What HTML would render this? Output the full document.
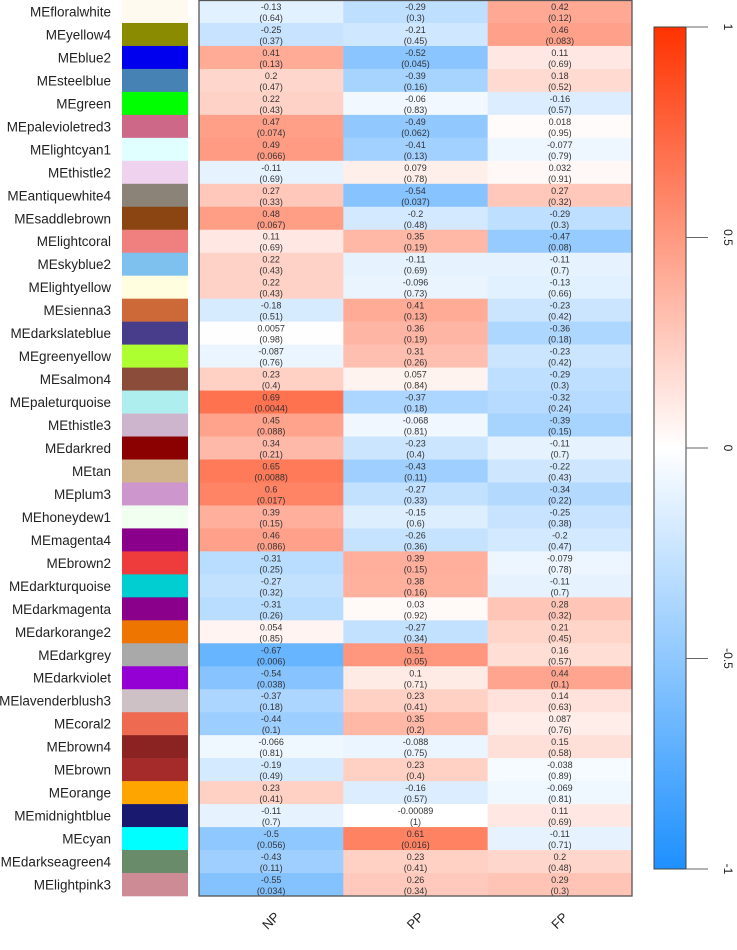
<!DOCTYPE html>
<html><head><meta charset="utf-8"><style>
body{margin:0;background:#fff;width:737px;height:945px;overflow:hidden;font-family:"Liberation Sans",sans-serif}
</style></head><body>
<svg id="chart" width="737" height="945" xmlns="http://www.w3.org/2000/svg"></svg>
<script>
const modules=["floralwhite","yellow4","blue2","steelblue","green","palevioletred3","lightcyan1","thistle2","antiquewhite4","saddlebrown","lightcoral","skyblue2","lightyellow","sienna3","darkslateblue","greenyellow","salmon4","paleturquoise","thistle3","darkred","tan","plum3","honeydew1","magenta4","brown2","darkturquoise","darkmagenta","darkorange2","darkgrey","darkviolet","lavenderblush3","coral2","brown4","brown","orange","midnightblue","cyan","darkseagreen4","lightpink3"];
const traits=["NP","PP","FP"];
const corNP=["-0.13","-0.25","0.41","0.2","0.22","0.47","0.49","-0.11","0.27","0.48","0.11","0.22","0.22","-0.18","0.0057","-0.087","0.23","0.69","0.45","0.34","0.65","0.6","0.39","0.46","-0.31","-0.27","-0.31","0.054","-0.67","-0.54","-0.37","-0.44","-0.066","-0.19","0.23","-0.11","-0.5","-0.43","-0.55"];
const pNP=["0.64","0.37","0.13","0.47","0.43","0.074","0.066","0.69","0.33","0.067","0.69","0.43","0.43","0.51","0.98","0.76","0.4","0.0044","0.088","0.21","0.0088","0.017","0.15","0.086","0.25","0.32","0.26","0.85","0.006","0.038","0.18","0.1","0.81","0.49","0.41","0.7","0.056","0.11","0.034"];
const corPP=["-0.29","-0.21","-0.52","-0.39","-0.06","-0.49","-0.41","0.079","-0.54","-0.2","0.35","-0.11","-0.096","0.41","0.36","0.31","0.057","-0.37","-0.068","-0.23","-0.43","-0.27","-0.15","-0.26","0.39","0.38","0.03","-0.27","0.51","0.1","0.23","0.35","-0.088","0.23","-0.16","-0.00089","0.61","0.23","0.26"];
const pPP=["0.3","0.45","0.045","0.16","0.83","0.062","0.13","0.78","0.037","0.48","0.19","0.69","0.73","0.13","0.19","0.26","0.84","0.18","0.81","0.4","0.11","0.33","0.6","0.36","0.15","0.16","0.92","0.34","0.05","0.71","0.41","0.2","0.75","0.4","0.57","1","0.016","0.41","0.34"];
const corFP=["0.42","0.46","0.11","0.18","-0.16","0.018","-0.077","0.032","0.27","-0.29","-0.47","-0.11","-0.13","-0.23","-0.36","-0.23","-0.29","-0.32","-0.39","-0.11","-0.22","-0.34","-0.25","-0.2","-0.079","-0.11","0.28","0.21","0.16","0.44","0.14","0.087","0.15","-0.038","-0.069","0.11","-0.11","0.2","0.29"];
const pFP=["0.12","0.083","0.69","0.52","0.57","0.95","0.79","0.91","0.32","0.3","0.08","0.7","0.66","0.42","0.18","0.42","0.3","0.24","0.15","0.7","0.43","0.22","0.38","0.47","0.78","0.7","0.32","0.45","0.57","0.1","0.63","0.76","0.58","0.89","0.81","0.69","0.71","0.48","0.3"];
const legendTicks=[1,0.5,0,-0.5,-1];
const swatch={floralwhite:"#FFFAF0",yellow4:"#8B8B00",blue2:"#0000EE",steelblue:"#4682B4",green:"#00FF00",palevioletred3:"#CD6889",lightcyan1:"#E0FFFF",thistle2:"#EED2EE",antiquewhite4:"#8B8378",saddlebrown:"#8B4513",lightcoral:"#F08080",skyblue2:"#7EC0EE",lightyellow:"#FFFFE0",sienna3:"#CD6839",darkslateblue:"#483D8B",greenyellow:"#ADFF2F",salmon4:"#8B4C39",paleturquoise:"#AFEEEE",thistle3:"#CDB5CD",darkred:"#8B0000",tan:"#D2B48C",plum3:"#CD96CD",honeydew1:"#F0FFF0",magenta4:"#8B008B",brown2:"#EE3B3B",darkturquoise:"#00CED1",darkmagenta:"#8B008B",darkorange2:"#EE7600",darkgrey:"#A9A9A9",darkviolet:"#9400D3",lavenderblush3:"#CDC1C5",coral2:"#EE6A50",brown4:"#8B2323",brown:"#A52A2A",orange:"#FFA500",midnightblue:"#191970",cyan:"#00FFFF",darkseagreen4:"#698B69",lightpink3:"#CD8C95"};
</script>
<script>
const svg=document.getElementById('chart');
const NS="http://www.w3.org/2000/svg";
function mk(t,a){const e=document.createElementNS(NS,t);for(const k in a)e.setAttribute(k,a[k]);svg.appendChild(e);return e;}
const X0=199,X1=632,Y0=0,Y1=896;
const nR=modules.length, rh=(Y1-Y0)/nR, cw=(X1-X0)/traits.length;
const yRow=i=>Y0+i*rh;
const xCol=j=>X0+j*cw;
function col(v){
  if(v>=0){const r=255,g=Math.round(255-v*205),b=Math.round(255-v*255);return `rgb(${r},${g},${b})`;}
  const a=-v;return `rgb(${Math.round(255-a*225)},${Math.round(255-a*111)},255)`;
}
const cors=[corNP,corPP,corFP], ps=[pNP,pPP,pFP];
for(let i=0;i<nR;i++){
  const t=mk('text',{x:111,y:yRow(i)+rh/2+5,'text-anchor':'end','font-size':'13.5',fill:'#222'});
  t.textContent='ME'+modules[i];
  
  
  const s=mk('rect',{x:122,y:yRow(i),width:66,height:rh+0.3,fill:swatch[modules[i]]});
  
  
  for(let j=0;j<3;j++){
    const v=parseFloat(cors[j][i]);
    const c=mk('rect',{x:xCol(j),y:yRow(i),width:cw+0.3,height:rh+0.3,fill:col(v)});
    
    
    const cx=xCol(j)+cw/2;
    const t1=mk('text',{x:cx,y:yRow(i)+10,'text-anchor':'middle','font-size':'9',fill:'#333'});
    t1.textContent=cors[j][i];
    
    
    const t2=mk('text',{x:cx,y:yRow(i)+21,'text-anchor':'middle','font-size':'9',fill:'#333'});
    t2.textContent='('+ps[j][i]+')';
    
    
  }
}
const fr=mk('rect',{x:X0,y:Y0+0.5,width:X1-X0,height:Y1-Y0-0.5,fill:'none',stroke:'#555','stroke-width':1.3});


for(let j=0;j<3;j++){
  const cx=xCol(j)+cw/2, cy=925;
  const t=mk('text',{x:cx,y:cy,'text-anchor':'middle','font-size':'13',fill:'#222',transform:`rotate(-45 ${cx} ${cy-4})`});
  t.textContent=traits[j];
  
  
}
// legend
const LY0=27,LY1=869,LX=654,LW=32;
const ly=v=>LY0+(1-v)/2*(LY1-LY0);
const defs=mk('defs',{});
const g=document.createElementNS(NS,'linearGradient');g.setAttribute('id','lg');g.setAttribute('x1',0);g.setAttribute('y1',0);g.setAttribute('x2',0);g.setAttribute('y2',1);defs.appendChild(g);
[1,0.5,0,-0.5,-1].forEach(v=>{const st=document.createElementNS(NS,'stop');st.setAttribute('offset',(1-v)/2);st.setAttribute('stop-color',col(v));g.appendChild(st);});
const lb=mk('rect',{x:LX,y:LY0,width:LW,height:LY1-LY0,fill:'url(#lg)',stroke:'#444','stroke-width':1});


legendTicks.forEach(v=>{
  const y=ly(v);
  const l=mk('line',{x1:LX+LW,x2:708,y1:y,y2:y,stroke:'#666','stroke-width':1});
  
  
  const t=mk('text',{x:728,y:y,'text-anchor':'middle','font-size':'12',fill:'#222',transform:`rotate(90 728 ${y})`,dy:'4'});
  t.textContent=String(v);
  
  
});
</script>
</body></html>
